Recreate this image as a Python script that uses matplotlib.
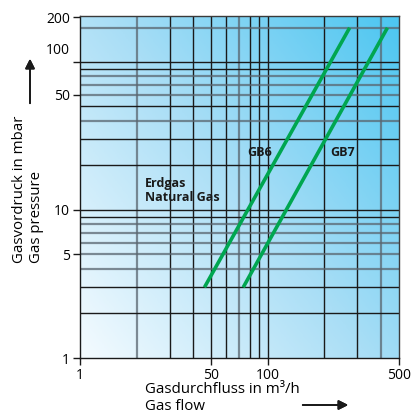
"""
Gasdruck-Diagramm GB6 / GB7 (Erdgas).
Produces: out.png
"""
import numpy as np
import matplotlib.pyplot as plt
from matplotlib.colors import LinearSegmentedColormap

plt.rcParams['font.family'] = ['Open Sans', 'DejaVu Sans']

# ── Data ─────────────────────────────────────────────────────────────────────
gb6_flow     = [46, 273]      # m3/h (axis position)
gb6_pressure = [3.0, 170]     # mbar
gb7_flow     = [74, 434]
gb7_pressure = [3.0, 170]

# grid lines (value, dark?)
x_grid      = [20, 30, 40, 50, 60, 70, 80, 90, 100, 200, 300, 400]
x_grid_dark = [0, 1, 1, 1, 1, 0, 1, 1, 1, 1, 1, 0]
y_grid      = [2, 3, 4, 5, 6, 7, 8, 9, 10, 20, 30, 40, 50, 60, 70, 80, 90, 100, 170]
y_grid_dark = [1, 1, 0, 0, 0, 0, 0, 1, 1, 1, 1, 0, 1, 0, 0, 0, 1, 1, 0]

# tick labels as printed on the chart
x_ticks       = [10, 50, 100, 500]
x_tick_labels = ["1", "50", "100", "500"]
y_ticks       = [1, 5, 10, 60, 100, 200]
y_tick_labels = ["1", "5", "10", "50", "", "200"]

C_GREEN = "#00a650"
C_DARK  = "#1a1a1a"
C_GREY  = "#5a6670"

fig = plt.figure(figsize=(4.12, 4.19), dpi=100)
fig.patch.set_facecolor("white")
ax = fig.add_axes([80/412, 61/419, 319/412, 342/419])

# background gradient, light bottom-left -> blue top-right
cmap = LinearSegmentedColormap.from_list("bg", ["#f4fbff", "#a9def6", "#4cc6f1"])
gx, gy = np.meshgrid(np.linspace(0, 1, 200), np.linspace(0, 1, 200))
ax.imshow((gx * 0.55 + gy * 0.45), cmap=cmap, extent=[0, 1, 0, 1],
          transform=ax.transAxes, origin="lower", aspect="auto", zorder=0)

ax.set_xscale("log")
ax.set_yscale("log")
ax.set_xlim(10, 500)
ax.set_ylim(1, 204)

for v, d in zip(x_grid, x_grid_dark):
    ax.axvline(v, color=C_DARK if d else C_GREY, linewidth=1.0 if d else 1.6,
               alpha=1.0 if d else 0.75, zorder=1)
for v, d in zip(y_grid, y_grid_dark):
    ax.axhline(v, color=C_DARK if d else C_GREY, linewidth=1.0 if d else 1.6,
               alpha=1.0 if d else 0.75, zorder=1)

ax.plot(gb6_flow, gb6_pressure, color=C_GREEN, linewidth=2.6, solid_capstyle="butt", zorder=3)
ax.plot(gb7_flow, gb7_pressure, color=C_GREEN, linewidth=2.6, solid_capstyle="butt", zorder=3)

ax.text(78, 23.2, "GB6", fontsize=9, fontweight="bold", color=C_DARK, zorder=4)
ax.text(215, 23.2, "GB7", fontsize=9, fontweight="bold", color=C_DARK, zorder=4)
ax.text(22.2, 16.8, "Erdgas\nNatural Gas", fontsize=9, fontweight="bold", va="top",
        color=C_DARK, linespacing=1.1, zorder=4)

ax.xaxis.set_minor_locator(plt.NullLocator())
ax.yaxis.set_minor_locator(plt.NullLocator())
ax.set_xticks(x_ticks)
ax.set_xticklabels(x_tick_labels, fontsize=10)
ax.set_yticks(y_ticks)
ax.set_yticklabels(y_tick_labels, fontsize=10)
ax.set_yticks([124], minor=True)
ax.set_yticklabels(["100"], minor=True, fontsize=10)
ax.tick_params(axis="y", which="minor", length=0, pad=7)
ax.tick_params(axis="both", which="major", length=5, width=1.0, color=C_DARK, pad=2)
for s in ax.spines.values():
    s.set_color("#3a3a3a")
    s.set_linewidth(1.0)
ax.spines["left"].set_color(C_DARK)
ax.spines["bottom"].set_color(C_DARK)

# axis titles with arrows
fig.text(28/412, (419 - 263)/419, "Gasvordruck in mbar\nGas pressure", rotation=90,
         rotation_mode="anchor", ha="left", va="center", fontsize=10.8, linespacing=1.2)
fig.text(145/412, (419 - 382)/419, "Gasdurchfluss in m\u00b3/h\nGas flow",
         ha="left", va="top", fontsize=10.8, linespacing=1.15)
fig.add_artist(plt.annotate("", xy=(30/412, (419 - 56)/419), xytext=(30/412, (419 - 106)/419),
                            xycoords="figure fraction",
                            arrowprops=dict(arrowstyle="-|>", color=C_DARK, lw=1.3,
                                            mutation_scale=14)))
fig.add_artist(plt.annotate("", xy=(351/412, (419 - 405)/419), xytext=(300/412, (419 - 405)/419),
                            xycoords="figure fraction",
                            arrowprops=dict(arrowstyle="-|>", color=C_DARK, lw=1.3,
                                            mutation_scale=14)))

plt.savefig("out.png", dpi=100, facecolor="white")
